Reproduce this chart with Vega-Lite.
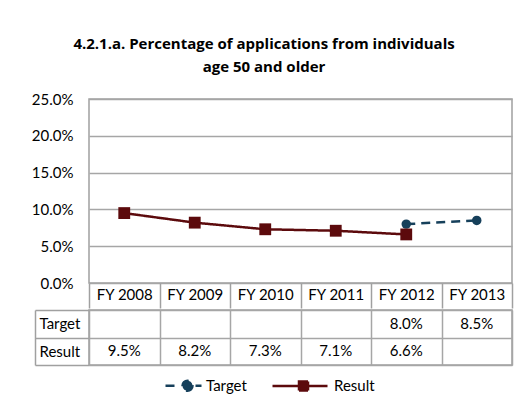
{
  "$schema": "https://vega.github.io/schema/vega-lite/v6.json",
  "background": "white",
  "padding": {"left": 30, "top": 37, "right": 5, "bottom": 5},
  "title": {
    "text": ["4.2.1.a. Percentage of applications from individuals", "age 50 and older"],
    "fontSize": 15, "fontWeight": "bold", "font": "Open Sans", "anchor": "middle",
    "lineHeight": 23, "offset": 16, "dx": -8, "color": "#000000"
  },
  "datasets": {
    "d": [
      {"year": "FY 2008", "series": "Result", "value": 0.095},
      {"year": "FY 2009", "series": "Result", "value": 0.082},
      {"year": "FY 2010", "series": "Result", "value": 0.073},
      {"year": "FY 2011", "series": "Result", "value": 0.071},
      {"year": "FY 2012", "series": "Result", "value": 0.066},
      {"year": "FY 2012", "series": "Target", "value": 0.08},
      {"year": "FY 2013", "series": "Target", "value": 0.085}
    ]
  },
  "spacing": -10,
  "vconcat": [
    {
      "width": 423,
      "height": 184,
      "data": {"name": "d"},
      "encoding": {
        "x": {
          "field": "year", "type": "ordinal", "bandPosition": 0.5,
          "scale": {"type": "band", "domain": ["FY 2008", "FY 2009", "FY 2010", "FY 2011", "FY 2012", "FY 2013"], "paddingInner": 0, "paddingOuter": 0},
          "axis": {"title": null, "tickBand": "extent", "tickSize": 25, "domain": false, "labelPadding": -21, "grid": false, "labelAngle": 0, "minExtent": 25, "maxExtent": 25}
        },
        "y": {
          "field": "value", "type": "quantitative",
          "scale": {"domain": [0, 0.25]},
          "axis": {"title": null, "values": [0, 0.05, 0.1, 0.15, 0.2, 0.25], "format": ".1%", "domain": false, "ticks": false, "labelPadding": 16, "grid": true}
        },
        "color": {
          "field": "series", "type": "nominal",
          "scale": {"domain": ["Target", "Result"], "range": ["#16405B", "#5C0A0C"]},
          "legend": {
            "orient": "none", "legendX": 99, "legendY": 275, "direction": "horizontal",
            "title": null, "symbolSize": 400, "symbolStrokeWidth": 2.5,
            "labelFontSize": 15, "labelFont": "Lato", "labelColor": "#000000", "labelOffset": -5, "columnPadding": 20,
            "encode": {
              "symbols": {
                "update": {
                  "shape": {"signal": "datum.value === 'Target' ? 'M-3.4,0H-2.4M-0.7,0A0.5,0.5 0 1 1 -1.7,0A0.5,0.5 0 1 1 -0.7,0ZM-0.4,0H0.2' : 'M-5.5,0H0M-2.85,-0.45H-1.95V0.45H-2.85Z'"},
                  "fill": {"signal": "datum.value === 'Target' ? '#16405B' : '#5C0A0C'"},
                  "stroke": {"signal": "datum.value === 'Target' ? '#16405B' : '#5C0A0C'"},
                  "strokeDash": {"value": []},
                  "opacity": {"value": 1}
                }
              }
            }
          }
        }
      },
      "layer": [
        {
          "mark": {"type": "line", "strokeWidth": 2.5},
          "encoding": {
            "strokeDash": {
              "field": "series", "type": "nominal",
              "scale": {"domain": ["Target", "Result"], "range": [[9, 6], [1, 0]]},
              "legend": null
            }
          }
        },
        {
          "transform": [{"filter": "datum.series === 'Target'"}],
          "mark": {"type": "point", "shape": "circle", "filled": true, "size": 90, "opacity": 1}
        },
        {
          "transform": [{"filter": "datum.series === 'Result'"}],
          "mark": {"type": "point", "shape": "square", "filled": true, "size": 140, "opacity": 1}
        }
      ]
    },
    {
      "width": 423,
      "height": 55,
      "data": {"name": "d"},
      "layer": [
        {
          "mark": {"type": "text", "fontSize": 15, "font": "Lato", "color": "#000000"},
          "encoding": {
            "x": {
              "field": "year", "type": "ordinal", "bandPosition": 0.5,
              "scale": {"type": "band", "domain": ["FY 2008", "FY 2009", "FY 2010", "FY 2011", "FY 2012", "FY 2013"], "paddingInner": 0, "paddingOuter": 0},
              "axis": {"title": null, "labels": false, "ticks": false, "domain": false, "grid": true, "tickBand": "extent"}
            },
            "y": {
              "field": "series", "type": "nominal", "bandPosition": 0.5,
              "scale": {"type": "band", "domain": ["Target", "Result"], "paddingInner": 0, "paddingOuter": 0},
              "axis": {"title": null, "orient": "left", "tickBand": "extent", "tickSize": 54, "labelAlign": "left", "labelPadding": -4, "domain": false, "grid": true}
            },
            "text": {"field": "value", "type": "quantitative", "format": ".1%"}
          }
        },
        {
          "mark": {"type": "text", "text": "", "fontSize": 1},
          "encoding": {
            "y": {
              "field": "series", "type": "nominal", "bandPosition": 0.5,
              "axis": {"title": null, "orient": "left", "offset": 54, "labels": false, "ticks": false, "grid": false, "domain": true}
            }
          }
        }
      ],
      "resolve": {"axis": {"y": "independent"}}
    }
  ],
  "config": {
    "font": "Lato",
    "view": {"stroke": "#A0A0A0", "strokeWidth": 1.5},
    "axis": {
      "labelFont": "Lato", "labelFontSize": 15, "labelColor": "#000000",
      "gridColor": "#A6A6A6", "gridWidth": 1.5,
      "tickColor": "#A0A0A0", "tickWidth": 1.5,
      "domainColor": "#A0A0A0", "domainWidth": 1.5
    }
  }
}
